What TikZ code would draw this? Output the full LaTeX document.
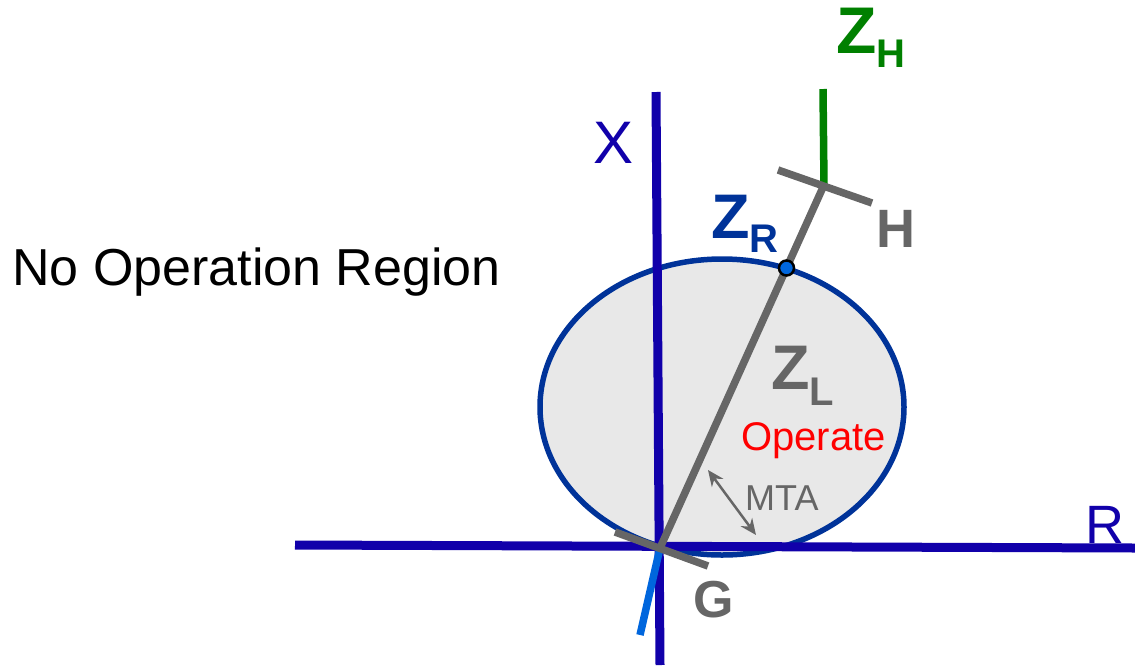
\documentclass[tikz,border=0pt]{standalone}
\usepackage{fontspec}
\setmainfont{Liberation Sans}
\usetikzlibrary{arrows.meta}
\definecolor{axisblue}{HTML}{1100AA}
\definecolor{ringblue}{HTML}{003399}
\definecolor{ringfill}{HTML}{E8E8E8}
\definecolor{impgray}{HTML}{666666}
\definecolor{srcgreen}{HTML}{008000}
\definecolor{backblue}{HTML}{0066DD}

\begin{document}
\begin{tikzpicture}[x=1pt,y=-1pt,>={Stealth[length=16pt,width=14pt]},
  axis/.style={draw=axisblue,line width=9pt},
  imp/.style={draw=impgray,line width=7.5pt},
  lbl/.style={inner sep=0pt,anchor=base west}]
\useasboundingbox (0,0) rectangle (1135,665);
% characteristic circle
\draw[draw=ringblue,fill=ringfill,line width=5.5pt] (722,407) ellipse [x radius=182, y radius=148];
% R-X plane
\coordinate (Rw) at (295,545);
\coordinate (Re) at (1135,548);
\coordinate (Xs) at (660,665);
\coordinate (Xn) at (656,92);
\draw[axis] (Rw) -- (Re);
\draw[axis] (Xs) -- (Xn);
% line impedance
\coordinate (G) at (660,548);
\coordinate (H) at (824,185);
\coordinate (ZR) at (786.5,268);
\draw[draw=backblue,line width=7.5pt] (G) -- (640,635);
\draw[draw=srcgreen,line width=7.5pt] (H) -- (823,89);
\draw[imp] (G) -- (H);
\draw[imp] (615,532) -- (708,566);
\draw[imp] (778,170) -- (872,203);
\fill[backblue,draw=black,line width=2.5pt] (ZR) circle (7.5);
\coordinate (mtaA) at (708,470);
\coordinate (mtaB) at (756,535);
\draw[<->,draw=impgray,fill=impgray,line width=2.5pt] (mtaA) -- (mtaB);
% labels
\node[lbl,font=\fontsize{52}{60}\selectfont] (noop) at (12,285) {No Operation Region};
\node[lbl,text=axisblue,font=\fontsize{60}{70}\selectfont] (xlab) at (593,163) {X};
\node[lbl,text=axisblue,font=\fontsize{54}{60}\selectfont] (rlab) at (1085,543) {R};
\node[lbl,text=srcgreen,font=\fontsize{66}{70}\selectfont\bfseries] (zh) at (836,53) {Z\raisebox{-14pt}{\fontsize{40}{44}\selectfont H}};
\node[lbl,text=ringblue,font=\fontsize{63}{70}\selectfont\bfseries] (zr) at (711,238) {Z\raisebox{-14pt}{\fontsize{40}{44}\selectfont R}};
\node[lbl,text=impgray,font=\fontsize{63}{70}\selectfont\bfseries] (zl) at (771,389) {Z\raisebox{-16pt}{\fontsize{40}{44}\selectfont L}};
\node[lbl,text=impgray,font=\fontsize{54}{60}\selectfont\bfseries] (hlab) at (876,247) {H};
\node[lbl,text=impgray,font=\fontsize{52}{60}\selectfont\bfseries] (glab) at (693,617) {G};
\node[lbl,text=red,font=\fontsize{40}{48}\selectfont] (oper) at (741,450) {Operate};
\node[lbl,text=impgray,font=\fontsize{36}{40}\selectfont] (mta) at (745,510) {MTA};
\end{tikzpicture}
\end{document}
